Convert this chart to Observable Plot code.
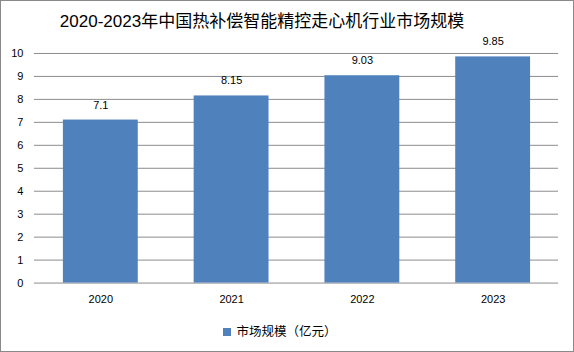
<!DOCTYPE html>
<html><head><meta charset="utf-8">
<script src="https://cdn.jsdelivr.net/npm/d3@7"></script>
<script src="https://cdn.jsdelivr.net/npm/@observablehq/plot@0.6"></script>
<style>
body{margin:0;background:#fff;font-family:"Liberation Sans","Noto Sans CJK SC",sans-serif;}
#wrap{position:relative;width:572px;height:350px;border:1px solid #8a8a8a;overflow:hidden;}
#title{position:absolute;top:8px;left:0;width:522px;text-align:center;font-size:17px;line-height:26px;color:#000;font-family:"Liberation Sans","Noto Sans CJK SC",sans-serif;}
#chart{position:absolute;top:35px;left:-1px;}
#legend{position:absolute;top:322px;left:0;width:558px;text-align:center;font-size:12.5px;line-height:18px;color:#000;}
#legend .sw{display:inline-block;width:8px;height:8px;background:#4f81bd;margin-right:5px;vertical-align:0px;}
</style></head>
<body>
<div id="wrap">
<div id="title">2020-2023年中国热补偿智能精控走心机行业市场规模</div>
<div id="chart"></div>
<div id="legend"><span class="sw"></span>市场规模（亿元）</div>
</div>
<script>
const years = ["2020","2021","2022","2023"];
const values = [7.1, 8.15, 9.03, 9.85];
const labels = ["7.1","8.15","9.03","9.85"];
const yTicks = [0,1,2,3,4,5,6,7,8,9,10];

const data = years.map((y,i)=>({year:y, value:values[i], label:labels[i]}));

const chart = Plot.plot({
  width: 574,
  height: 276,
  marginTop: 17,
  marginBottom: 29,
  marginLeft: 34,
  marginRight: 15,
  style: {fontSize: "11px", fontFamily: "'Liberation Sans','Noto Sans CJK SC',sans-serif", color: "#000", background: "transparent"},
  x: {domain: years, paddingInner: 0.43, paddingOuter: 0.215, label: null, tickSize: 0, tickPadding: 12},
  y: {domain: [0,10], ticks: yTicks, label: null, tickSize: 0, tickPadding: 11},
  marks: [
    Plot.gridY(yTicks, {stroke: "#8c8c8c", strokeOpacity: 1}),
    Plot.barY(data, {x: "year", y: "value", fill: "#4f81bd"}),
    Plot.text(data, {x: "year", y: "value", text: "label", dy: -15, fill: "#000", fontSize: 11})
  ]
});
document.getElementById("chart").appendChild(chart);
</script>
</body></html>
